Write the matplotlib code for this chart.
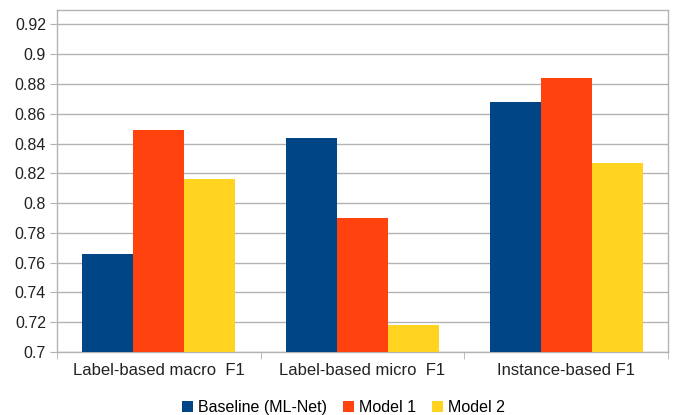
import matplotlib
matplotlib.use("Agg")
import matplotlib.pyplot as plt
import numpy as np
from matplotlib.patches import Patch

categories = ["Label-based macro  F1", "Label-based micro  F1", "Instance-based F1"]
series_names = ["Baseline (ML-Net)", "Model 1", "Model 2"]
baseline = [0.766, 0.844, 0.868]
model1 = [0.849, 0.790, 0.884]
model2 = [0.816, 0.718, 0.827]
yticks = [0.7, 0.72, 0.74, 0.76, 0.78, 0.8, 0.82, 0.84, 0.86, 0.88, 0.9, 0.92]
colors = ["#004586", "#ff420e", "#ffd320"]

plt.rcParams['font.family'] = ['Liberation Sans', 'DejaVu Sans']

fig = plt.figure(figsize=(6.73, 4.15), dpi=100)
ax = fig.add_axes([57/673, 63/415, 611/673, 342/415])

x = np.arange(len(categories))
w = 0.25
for i, (vals, c, name) in enumerate(zip([baseline, model1, model2], colors, series_names)):
    ax.bar(x + (i - 1) * w, vals, width=w, color=c, label=name, zorder=3, linewidth=0)

ax.set_xlim(-0.5, 2.5)
ax.set_ylim(0.7, 0.9297)
ax.set_yticks(yticks)
ax.set_yticklabels([f"{v:g}" for v in yticks], fontsize=11.5, color="#222222")
ax.set_xticks(x)
ax.set_xticklabels(categories, fontsize=12, color="#222222")
ax.tick_params(axis='x', length=0, pad=8)
ax.set_xticks([-0.5, 0.5, 1.5, 2.5], minor=True)
ax.tick_params(axis='x', which='minor', length=5, color="#b3b3b3", direction='out')
ax.tick_params(axis='y', length=5, color="#b3b3b3", direction='out', pad=3)
ax.grid(axis='y', color="#b3b3b3", linewidth=1, zorder=0)
for s in ax.spines.values():
    s.set_color("#b3b3b3")
    s.set_linewidth(1)

handles = [Patch(facecolor=c, label=n) for c, n in zip(colors, series_names)]
fig.legend(handles=handles, loc='lower center', bbox_to_anchor=(0.51, -0.035), ncol=3,
           frameon=False, fontsize=11.5, handlelength=0.7, handleheight=0.7,
           handletextpad=0.3, columnspacing=1.0)

fig.savefig("out.png", dpi=100)
